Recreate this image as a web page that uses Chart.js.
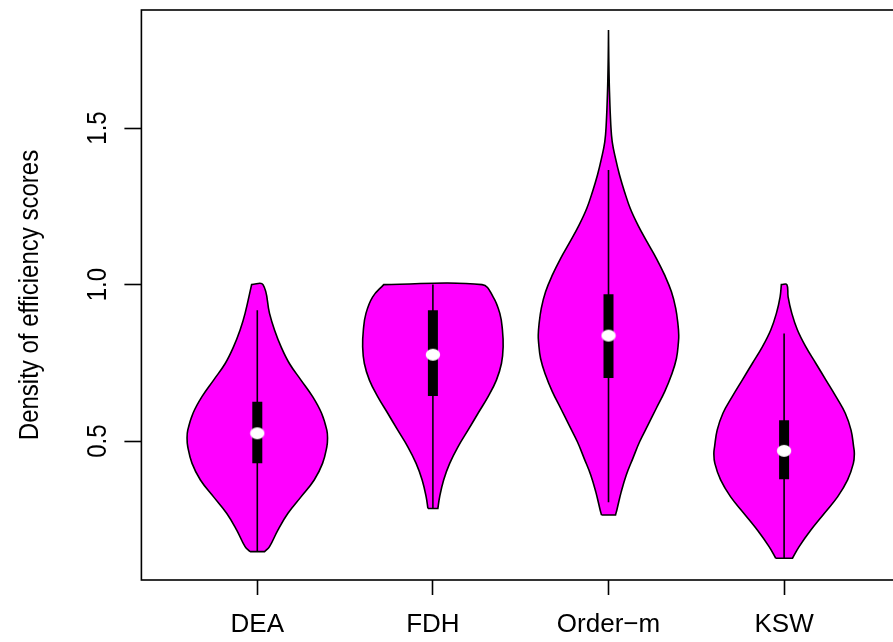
<!DOCTYPE html>
<html>
<head>
<meta charset="utf-8">
<script src="https://cdn.jsdelivr.net/npm/chart.js@4.4.1/dist/chart.umd.min.js"></script>
<style>
  html, body { margin: 0; padding: 0; overflow: hidden; background: #ffffff; }
  canvas { display: block; }
</style>
</head>
<body>
<canvas id="chart" width="912" height="642"></canvas>
<script>
// ---- data -------------------------------------------------------------
const categories = ['DEA', 'FDH', 'Order\u2212m', 'KSW'];
const yTicks = [0.5, 1.0, 1.5];
const yTitle = 'Density of efficiency scores';

// Kernel density outlines: efficiency level (bottom to top) and relative density (1 = widest)
const deaLevels  = [0.147, 0.163, 0.216, 0.269, 0.322, 0.376, 0.429, 0.482, 0.509, 0.535, 0.589, 0.642, 0.695, 0.748, 0.801, 0.855, 0.908, 1.0];
const deaDensity = [0.103, 0.174, 0.293, 0.434, 0.622, 0.810, 0.929, 0.990, 1.0, 0.990, 0.915, 0.788, 0.622, 0.457, 0.339, 0.245, 0.174, 0.081];

const fdhLevels  = [0.285, 0.322, 0.376, 0.429, 0.482, 0.535, 0.589, 0.642, 0.695, 0.748, 0.801, 0.855, 0.908, 0.961, 1.0];
const fdhDensity = [0.071, 0.096, 0.153, 0.239, 0.357, 0.50, 0.643, 0.786, 0.904, 0.976, 1.0, 0.99, 0.953, 0.857, 0.70];

const ordLevels  = [0.264, 0.285, 0.338, 0.392, 0.445, 0.498, 0.551, 0.605, 0.658, 0.711, 0.764, 0.817, 0.839, 0.871, 0.924, 0.977, 1.030, 1.084, 1.137, 1.190, 1.243, 1.296, 1.350, 1.403, 1.456, 1.509, 1.616, 1.722, 1.813];
const ordDensity = [0.10, 0.124, 0.181, 0.253, 0.347, 0.443, 0.561, 0.681, 0.80, 0.896, 0.967, 0.996, 1.0, 0.99, 0.957, 0.896, 0.80, 0.681, 0.547, 0.419, 0.31, 0.229, 0.157, 0.10, 0.053, 0.033, 0.014, 0.004, 0.0];

const kswLevels  = [0.126, 0.163, 0.216, 0.269, 0.322, 0.376, 0.429, 0.461, 0.482, 0.535, 0.589, 0.642, 0.695, 0.748, 0.801, 0.855, 0.908, 0.961, 1.0];
const kswDensity = [0.119, 0.214, 0.381, 0.571, 0.761, 0.904, 0.986, 1.0, 0.99, 0.953, 0.871, 0.739, 0.596, 0.453, 0.31, 0.19, 0.11, 0.057, 0.039];

// Box-plot summaries per method
const whiskerLow  = [0.147, 0.285, 0.305, 0.126];
const whiskerHigh = [0.918, 1.0, 1.366, 0.844];
const q1          = [0.429, 0.644, 0.702, 0.378];
const q3          = [0.626, 0.918, 0.969, 0.567];
const medians     = [0.525, 0.776, 0.837, 0.469];

// ---- drawing ----------------------------------------------------------
const FONT = '"Liberation Sans", Arial, Helvetica, sans-serif';
const HALF_WIDTH = 0.4;        // widest half-width of a violin in category units
const GLYPH_STRETCH = 1.16;    // rotated axis text is drawn slightly wide across the axis
const violins = [
  [deaLevels, deaDensity],
  [fdhLevels, fdhDensity],
  [ordLevels, ordDensity],
  [kswLevels, kswDensity]
];

// closed outline: left side upward, across the top, right side downward, back to start
function outline(center, levels, dens) {
  const n = levels.length;
  const left = levels.map((v, i) => ({ x: center - HALF_WIDTH * dens[i], y: v }));
  const right = levels.map((v, i) => ({ x: center + HALF_WIDTH * dens[i], y: v })).reverse();
  const pts = [];
  left.forEach(p => pts.push(p));
  pts.push({ ...left[n - 1] });          // repeated corner keeps the flat top sharp
  right.forEach(p => pts.push(p));
  pts.push({ ...right[n - 1] });         // repeated corner keeps the flat bottom sharp
  pts.push({ ...left[0] });
  return pts;
}

// white elliptical median marker
const dot = document.createElement('canvas');
dot.width = 16; dot.height = 14;
(function () {
  const g = dot.getContext('2d');
  g.fillStyle = '#ffffff';
  g.beginPath();
  g.ellipse(8, 7, 7.2, 6, 0, 0, Math.PI * 2);
  g.fill();
})();

const datasets = [];
categories.forEach((name, i) => {
  const c = i + 1;
  datasets.push({
    label: name + ' density',
    data: outline(c, violins[i][0], violins[i][1]),
    showLine: true,
    fill: 'shape',
    backgroundColor: '#ff00ff',
    borderColor: '#000000',
    borderWidth: 1.6,
    tension: 0.4,
    pointRadius: 0,
    order: 4
  });
  datasets.push({
    label: name + ' whisker',
    data: [{ x: c, y: whiskerLow[i] }, { x: c, y: whiskerHigh[i] }],
    showLine: true,
    borderColor: '#000000',
    borderWidth: 1.6,
    pointRadius: 0,
    order: 3
  });
  datasets.push({
    label: name + ' box',
    data: [{ x: c, y: q1[i] }, { x: c, y: q3[i] }],
    showLine: true,
    borderColor: '#000000',
    borderWidth: 10,
    borderCapStyle: 'butt',
    pointRadius: 0,
    order: 2
  });
  datasets.push({
    label: name + ' median',
    data: [{ x: c, y: medians[i] }],
    pointStyle: dot,
    pointRadius: 7,
    order: 1
  });
});

// plot frame around the chart area
const framePlugin = {
  id: 'frame',
  afterDraw(chart) {
    const { ctx, chartArea: a } = chart;
    ctx.save();
    ctx.strokeStyle = '#000000';
    ctx.lineWidth = 1.6;
    ctx.strokeRect(a.left, a.top, a.right - a.left, a.bottom - a.top);
    ctx.restore();
  }
};

// text written parallel to the y axis (tick labels and axis title)
function verticalText(ctx, text, x, y, size) {
  ctx.save();
  ctx.translate(x, y);
  ctx.rotate(-Math.PI / 2);
  ctx.scale(1, GLYPH_STRETCH);
  ctx.font = size + 'px ' + FONT;
  ctx.textAlign = 'center';
  ctx.textBaseline = 'middle';
  ctx.fillText(text, 0, 0);
  ctx.restore();
}

const yTextPlugin = {
  id: 'yText',
  afterDraw(chart) {
    const { ctx, chartArea: a } = chart;
    const y = chart.scales.y;
    ctx.save();
    ctx.fillStyle = '#000000';
    y.ticks.forEach(t => {
      verticalText(ctx, t.value.toFixed(1), y.right - 43, y.getPixelForValue(t.value), 24);
    });
    verticalText(ctx, yTitle, 30, (a.top + a.bottom) / 2, 24);
    ctx.restore();
  }
};

new Chart(document.getElementById('chart'), {
  type: 'scatter',
  data: { datasets },
  options: {
    responsive: false,
    animation: false,
    devicePixelRatio: 1,
    layout: { padding: { top: 10, right: 12, left: 0, bottom: 0 } },
    plugins: { legend: { display: false }, tooltip: { enabled: false } },
    scales: {
      x: {
        type: 'linear',
        min: 0.34,
        max: 4.66,
        afterBuildTicks: s => { s.ticks = categories.map((_, i) => ({ value: i + 1 })); },
        afterFit: s => { s.height = 62; },
        border: { display: false },
        grid: { display: true, drawOnChartArea: false, drawTicks: true, tickLength: 15, tickColor: '#000000', tickWidth: 1.6 },
        ticks: {
          autoSkip: false,
          maxRotation: 0,
          padding: 14,
          color: '#000000',
          font: { family: FONT, size: 26 },
          callback: v => categories[v - 1]
        }
      },
      y: {
        type: 'linear',
        min: 0.0565,
        max: 1.877,
        afterBuildTicks: s => { s.ticks = yTicks.map(v => ({ value: v })); },
        afterFit: s => { s.width = 141.4; },
        border: { display: false },
        grid: { display: true, drawOnChartArea: false, drawTicks: true, tickLength: 17, tickColor: '#000000', tickWidth: 1.6 },
        ticks: { display: false }
      }
    }
  },
  plugins: [framePlugin, yTextPlugin]
});
</script>
</body>
</html>
